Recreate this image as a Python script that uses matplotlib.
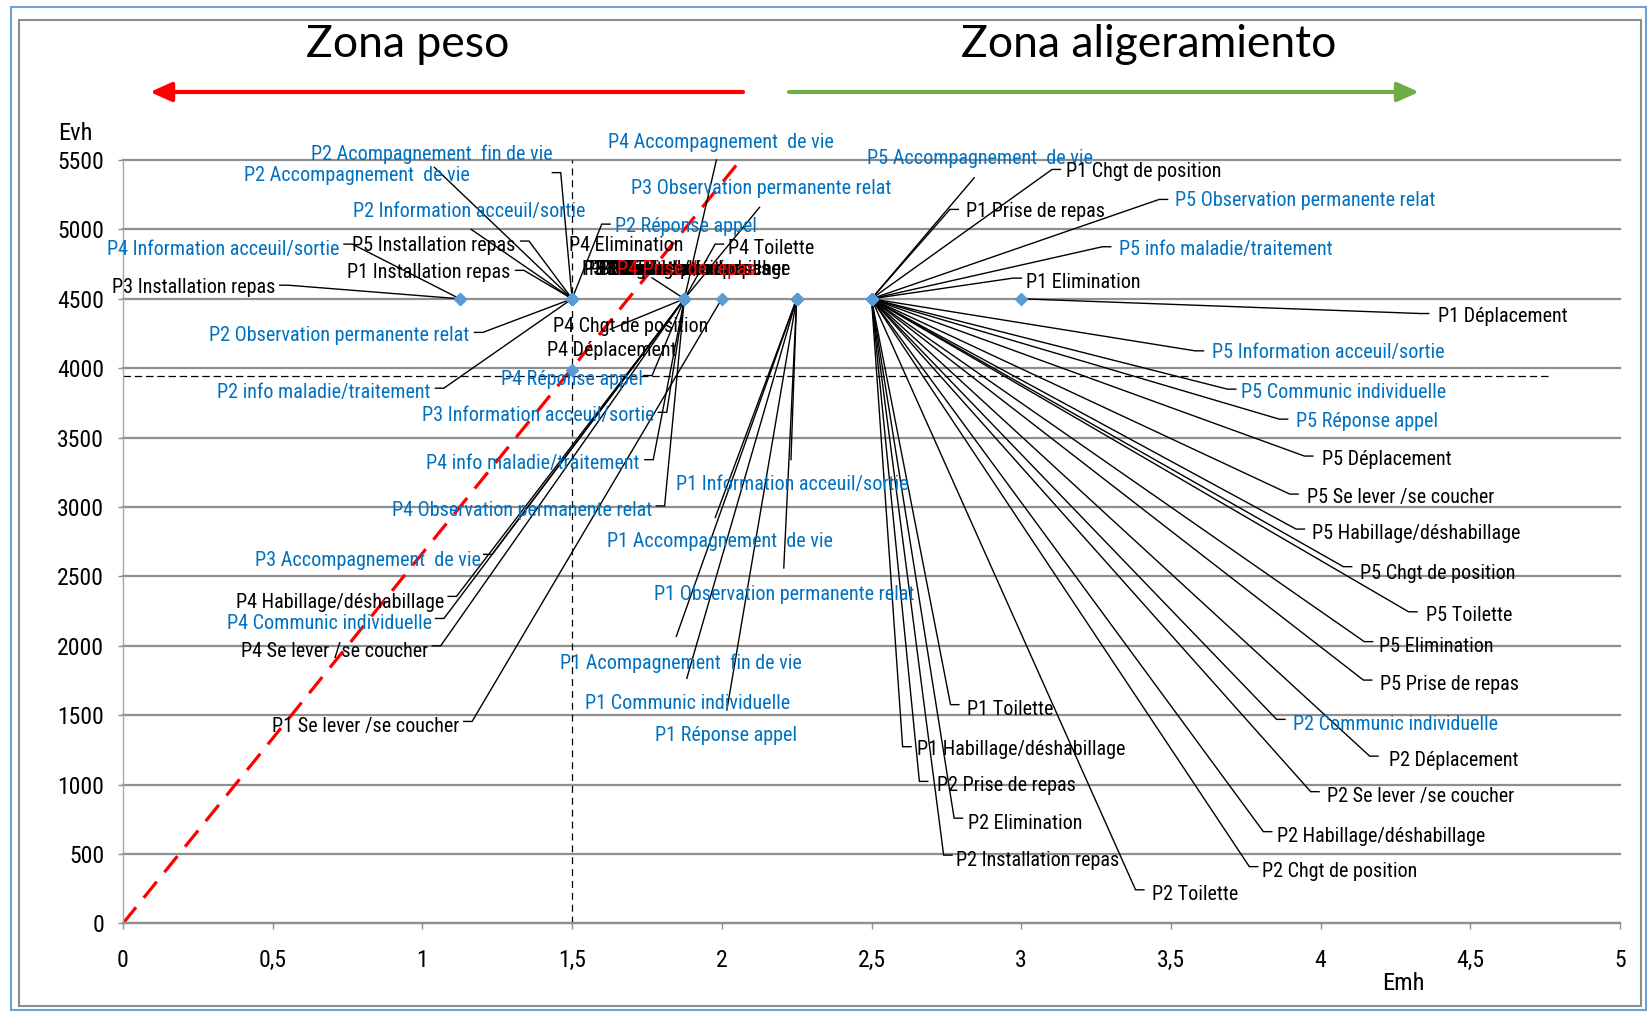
import os
import numpy as np
import matplotlib
matplotlib.use("Agg")
import matplotlib.pyplot as plt
from matplotlib import font_manager as fm
from matplotlib.font_manager import FontProperties
from matplotlib.textpath import TextPath
from matplotlib.patches import FancyArrowPatch, Rectangle, ArrowStyle

W, H, DPI = 1649, 1013, 100

# ---------------- data ----------------
labels = [
    "P3 Installation repas", "P4 Information acceuil/sortie",
    "P2 Acompagnement  fin de vie", "P2 Accompagnement  de vie", "P2 Information acceuil/sortie",
    "P5 Installation repas", "P1 Installation repas", "P2 Observation permanente relat",
    "P2 info maladie/traitement", "P2 Réponse appel",
    "P4 Accompagnement  de vie", "P3 Observation permanente relat", "P4 Elimination", "P4 Toilette",
    "P4 Chgt de position", "P4 Déplacement", "P3 Information acceuil/sortie", "P4 info maladie/traitement",
    "P4 Observation permanente relat", "P3 Accompagnement  de vie", "P4 Habillage/déshabillage",
    "P4 Communic individuelle", "P4 Se lever /se coucher",
    "P3 Habillage/déshabillage", "P3 Elimination", "P3 Chgt de position", "P3 Déplacement",
    "P3 Toilette", "P3 Se lever /se coucher", "P4 Installation repas", "P3 Prise de repas",
    "P4 Prise de repas",
    "P4 Réponse appel",
    "P1 Se lever /se coucher",
    "P1 Information acceuil/sortie", "P1 Accompagnement  de vie", "P1 Observation permanente relat",
    "P1 Acompagnement  fin de vie", "P1 Communic individuelle", "P1 Réponse appel",
    "P5 Accompagnement  de vie", "P1 Chgt de position", "P1 Prise de repas",
    "P5 Observation permanente relat", "P5 info maladie/traitement", "P1 Elimination",
    "P1 Déplacement",
    "P5 Information acceuil/sortie", "P5 Communic individuelle", "P5 Réponse appel", "P5 Déplacement",
    "P5 Se lever /se coucher", "P5 Habillage/déshabillage", "P5 Chgt de position", "P5 Toilette",
    "P5 Elimination", "P5 Prise de repas", "P2 Communic individuelle", "P2 Déplacement",
    "P2 Se lever /se coucher", "P2 Habillage/déshabillage", "P2 Chgt de position", "P2 Toilette",
    "P1 Toilette", "P1 Habillage/déshabillage", "P2 Prise de repas", "P2 Elimination",
    "P2 Installation repas",
]
emh = ([1.125] * 2 + [1.5] * 8 + [1.875] * 13 + [1.875] * 9 + [1.5] + [2.0]
       + [2.25] * 6 + [2.5] * 6 + [3.0] + [2.5] * 21)
evh = ([4500] * 32 + [3990] + [4500] * 35)
kind = [
    "care", "rel",
    "rel", "rel", "rel", "care", "care", "rel", "rel", "rel",
    "rel", "rel", "care", "care", "care", "care", "rel", "rel", "rel", "rel", "care", "rel", "care",
    "care", "care", "care", "care", "care", "care", "care", "care", "focus",
    "rel",
    "care",
    "rel", "rel", "rel", "rel", "rel", "rel",
    "rel", "care", "care", "rel", "rel", "care",
    "care",
    "rel", "rel", "rel", "care", "care", "care", "care", "care", "care", "care", "rel", "care",
    "care", "care", "care", "care", "care", "care", "care", "care", "care",
]

# reference lines
ratio_x = [0.0, 2.0625]
ratio_y = [0.0, 5500.0]
thr_emh = 1.5
thr_evh = 3945
thr_evh_xmax = 4.77

x_ticks = [0, 0.5, 1, 1.5, 2, 2.5, 3, 3.5, 4, 4.5, 5]
x_tick_labels = ["0", "0,5", "1", "1,5", "2", "2,5", "3", "3,5", "4", "4,5", "5"]
y_ticks = list(range(0, 5501, 500))
y_tick_labels = [str(v) for v in y_ticks]

zone_titles = ["Zona peso", "Zona aligeramiento"]

# ---------------- label layout (text x, text y, ha, leader start x, y, tick) ----------------
L = [
    (0.5095, 4583, "right", 0.5235, 4598, True),
    (0.724, 4856, "right", 0.738, 4894, True),
    (1.4336, 5538, "right", 1.434, 5409, True),
    (1.1595, 5387, "right", 1.040, 5447, False),
    (1.546, 5129, "right", 1.163, 5000, False),
    (1.3106, 4886, "right", 1.328, 4916, True),
    (1.293, 4690, "right", 1.311, 4705, True),
    (1.156, 4235, "right", 1.174, 4258, True),
    (1.026, 3826, "right", 1.0436, 3856, True),
    (1.644, 5023, "left", 1.627, 5038, True),
    (1.620, 5629, "left", 1.982, 5500, False),
    (1.697, 5296, "left", 2.126, 5159, False),
    (1.490, 4886, "left", None, None, False),
    (2.020, 4864, "left", 2.006, 4894, True),
    (1.437, 4303, "left", 1.627, 4280, False),
    (1.416, 4129, "left", 1.739, 3947, True),
    (1.774, 3659, "right", 1.788, 3682, True),
    (1.725, 3311, "right", 1.743, 3341, True),
    (1.767, 2977, "right", 1.781, 3008, True),
    (1.195, 2614, "right", 1.205, 2659, True),
    (1.072, 2311, "right", 1.086, 2356, True),
    (1.033, 2159, "right", 1.044, 2197, True),
    (1.019, 1962, "right", 1.033, 2000, True),
    (1.532, 4712, "left", None, None, False),
    (1.539, 4712, "left", None, None, False),
    (1.557, 4712, "left", None, None, False),
    (1.578, 4712, "left", None, None, False),
    (1.599, 4712, "left", None, None, False),
    (1.592, 4712, "left", None, None, False),
    (1.616, 4712, "left", None, None, False),
    (1.634, 4712, "left", None, None, False),
    (1.651, 4712, "left", 1.767, 4651, False),
    (1.5003, 3917, "center", None, None, False),
    (1.124, 1417, "right", 1.138, 1455, True),
    (1.848, 3159, "left", 2.231, 3341, False),
    (1.616, 2750, "left", 1.978, 2924, False),
    (1.774, 2371, "left", 2.207, 2561, False),
    (1.458, 1871, "left", 1.848, 2068, False),
    (1.5425, 1583, "left", 1.883, 1765, False),
    (1.778, 1356, "left", 2.017, 1538, False),
    (2.484, 5508, "left", 2.843, 5372, False),
    (3.148, 5417, "left", 3.131, 5432, True),
    (2.8145, 5129, "left", 2.790, 5144, True),
    (3.514, 5205, "left", 3.489, 5216, True),
    (3.327, 4856, "left", 3.299, 4875, True),
    (3.015, 4621, "left", 3.001, 4649, True),
    (4.392, 4371, "left", 4.361, 4394, True),
    (3.637, 4114, "left", 3.609, 4125, True),
    (3.735, 3826, "left", 3.717, 3849, True),
    (3.918, 3614, "left", 3.890, 3633, True),
    (4.006, 3341, "left", 3.974, 3367, True),
    (3.956, 3068, "left", 3.925, 3093, True),
    (3.970, 2811, "left", 3.946, 2841, True),
    (4.132, 2523, "left", 4.104, 2570, True),
    (4.353, 2220, "left", 4.322, 2245, True),
    (4.195, 1992, "left", 4.174, 2030, True),
    (4.199, 1720, "left", 4.171, 1753, True),
    (3.907, 1432, "left", 3.881, 1470, True),
    (4.227, 1174, "left", 4.192, 1205, True),
    (4.023, 917, "left", 3.995, 949, True),
    (3.855, 629, "left", 3.837, 661, True),
    (3.805, 371, "left", 3.790, 409, True),
    (3.436, 205, "left", 3.410, 242, True),
    (2.818, 1538, "left", 2.792, 1576, True),
    (2.653, 1250, "left", 2.632, 1273, True),
    (2.720, 992, "left", 2.688, 1023, True),
    (2.821, 720, "left", 2.804, 758, True),
    (2.783, 455, "left", 2.769, 492, True),
]
TICK = 0.028

COLORS = {"rel": "#0070C0", "care": "#000000", "focus": "#FF0000"}
MARKER = "#5B9BD5"
GRID = "#8F8F8F"


# ---------------- fonts ----------------
def find_font_file(names, keywords=("condensed", "narrow")):
    fl = fm.fontManager.ttflist
    bad = ("bold", "italic", "oblique", "light", "thin", "medium", "black",
           "semi", "extra", "heavy", "ultra")

    def regular(f):
        b = os.path.basename(f.fname).lower()
        return f.style == "normal" and not any(k in b for k in bad)

    for n in names:
        for f in fl:
            if f.name == n and regular(f):
                return f.fname
    for f in fl:
        b = os.path.basename(f.fname).lower()
        if any(k in b for k in keywords) and regular(f):
            return f.fname
    return None


cond = find_font_file(["Roboto Condensed", "Liberation Sans Narrow", "Open Sans Condensed",
                       "Noto Sans Condensed", "DejaVu Sans Condensed", "Arial Narrow"])
BASE_FP = FontProperties(fname=cond) if cond else FontProperties(family="Liberation Sans")
TITLE_FP = FontProperties(family=["Lato", "DejaVu Sans"])


def fit(fp, pairs):
    sizes = []
    for s, px in pairs:
        p = fp.copy()
        p.set_size(100)
        w = TextPath((0, 0), s, prop=p).get_extents().width
        sizes.append(100 * px / (w * DPI / 72.0))
    return float(np.mean(sizes))


def sized(fp, size):
    p = fp.copy()
    p.set_size(size)
    return p


LAB_FP = sized(BASE_FP, fit(BASE_FP, [("P5 Habillage/déshabillage", 203),
                                      ("P2 Observation permanente relat", 262),
                                      ("P1 Information acceuil/sortie", 230)]))
TICK_FP = sized(BASE_FP, fit(BASE_FP, [("5500", 39), ("4,5", 29.5)]))
AX_FP = sized(BASE_FP, fit(BASE_FP, [("Evh", 31), ("Emh", 39)]))
TTL_FP = sized(TITLE_FP, fit(TITLE_FP, [("Zona peso", 199), ("Zona aligeramiento", 374)]))

# ---------------- figure ----------------
fig = plt.figure(figsize=(W / DPI, H / DPI), dpi=DPI)
fig.patch.set_facecolor("white")


def fx(px):
    return px / W


def fy(py):
    return 1 - py / H


# frame
fig.add_artist(Rectangle((fx(11), fy(1010)), fx(1646) - fx(11), fy(7) - fy(1010),
                         transform=fig.transFigure, fill=False, ec="#6FA3D8", lw=1.5))
fig.add_artist(Rectangle((fx(19), fy(1006)), fx(1641) - fx(19), fy(20) - fy(1006),
                         transform=fig.transFigure, fill=False, ec="#8C8C8C", lw=1.5))

ax = fig.add_axes([fx(123), fy(923.4), fx(1620) - fx(123), fy(160) - fy(923.4)])
ax.set_xlim(0, 5)
ax.set_ylim(0, 5500)
ax.set_facecolor("none")
ax.set_xticks(x_ticks)
ax.set_xticklabels(x_tick_labels, fontproperties=TICK_FP)
ax.set_yticks(y_ticks)
ax.set_yticklabels(y_tick_labels, fontproperties=TICK_FP)
ax.tick_params(axis="x", direction="out", length=4.5, width=1, color=GRID, pad=14)
ax.tick_params(axis="y", direction="out", length=3.6, width=1, color=GRID, pad=10)
ax.grid(axis="y", color=GRID, lw=1.6)
for gl in ax.get_ygridlines():
    gl.set_clip_on(False)
ax.set_axisbelow(True)
for s in ("top", "right"):
    ax.spines[s].set_visible(False)
ax.spines["left"].set_color("#A6A6A6")
ax.spines["left"].set_linewidth(1.0)
ax.spines["bottom"].set_color(GRID)
ax.spines["bottom"].set_linewidth(1.6)

# reference lines
ax.plot(ratio_x, ratio_y, color="#FF0000", lw=2.3, linestyle=(0, (6.5, 3.8)), zorder=2)
ax.plot([thr_emh, thr_emh], [0, 5500], color="black", lw=0.9, linestyle=(0, (5.5, 4)), zorder=2)
ax.plot([0, thr_evh_xmax], [thr_evh, thr_evh], color="black", lw=0.9,
        linestyle=(0, (6, 3)), zorder=2)

# leaders and labels
for i, lab in enumerate(labels):
    tx, ty, ha, lx, ly, tick = L[i]
    px, py = emh[i], evh[i]
    if lx is not None:
        xs, ys = [lx], [ly]
        if tick:
            xs.append(lx + (TICK if px > lx else -TICK))
            ys.append(ly)
        xs.append(px)
        ys.append(py)
        ax.plot(xs, ys, color="black", lw=1.0, clip_on=False, zorder=3,
                solid_joinstyle="miter")
for i, lab in enumerate(labels):
    tx, ty, ha, lx, ly, tick = L[i]
    ax.text(tx, ty, lab, ha=ha, va="center", color=COLORS[kind[i]],
            fontproperties=LAB_FP, clip_on=False, zorder=6 if kind[i] == "focus" else 4)

ax.plot(emh, evh, linestyle="none", marker="D", ms=6.5, color=MARKER, zorder=5, clip_on=False)

# axis titles
fig.text(fx(58), fy(133.5), "Evh", ha="left", va="center", fontproperties=AX_FP)
fig.text(fx(1403), fy(983), "Emh", ha="center", va="center", fontproperties=AX_FP)

# zone titles and arrows
fig.text(fx(408), fy(57), zone_titles[0], ha="center", va="baseline", fontproperties=TTL_FP)
fig.text(fx(1148.7), fy(57), zone_titles[1], ha="center", va="baseline", fontproperties=TTL_FP)
style = ArrowStyle("-|>", head_length=1.0, head_width=0.45)
fig.add_artist(FancyArrowPatch((fx(743), fy(92)), (fx(150), fy(92)), transform=fig.transFigure,
                               arrowstyle=style, mutation_scale=13, color="#FF0000", lw=3.0,
                               shrinkA=0, shrinkB=0))
fig.add_artist(FancyArrowPatch((fx(789), fy(92)), (fx(1419), fy(92)), transform=fig.transFigure,
                               arrowstyle=style, mutation_scale=13, color="#70AD47", lw=3.0,
                               shrinkA=0, shrinkB=0))

fig.savefig("out.png", dpi=DPI, facecolor="white")
